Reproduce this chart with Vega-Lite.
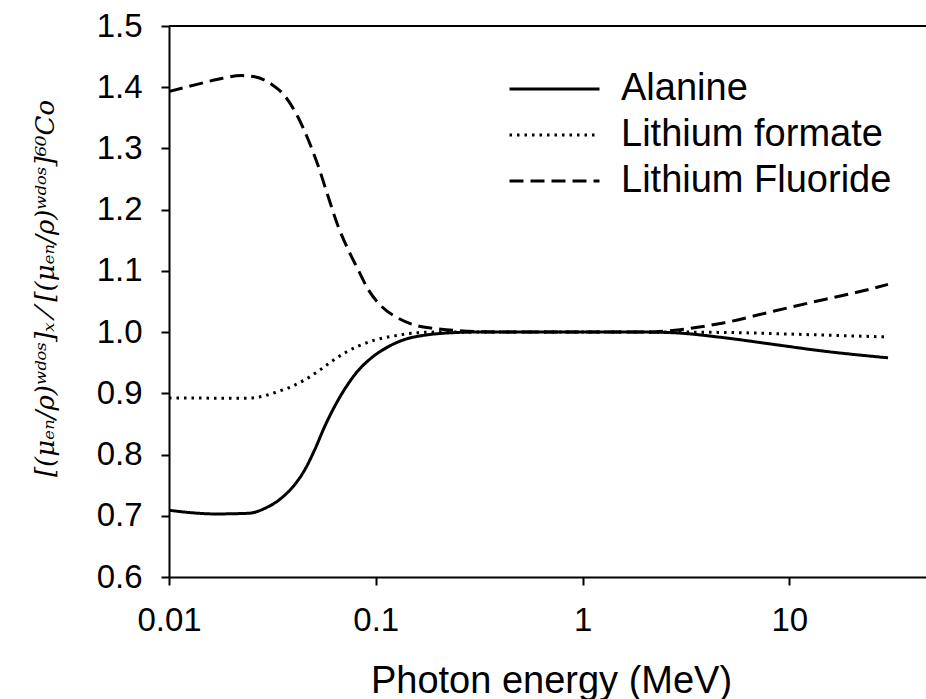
{
  "$schema": "https://vega.github.io/schema/vega-lite/v6.json",
  "autosize": {"type": "none"},
  "padding": {"left": 169, "top": 26, "right": 0, "bottom": 122},
  "width": 757,
  "height": 551,
  "background": "white",
  "config": {
    "view": {"stroke": null},
    "font": "Liberation Sans",
    "axis": {
      "grid": false,
      "domainColor": "black",
      "domainWidth": 2,
      "tickColor": "black",
      "tickWidth": 2,
      "tickSize": 8,
      "labelColor": "black",
      "labelFont": "Liberation Sans",
      "labelFontSize": 33,
      "titleColor": "black",
      "titleFontWeight": "normal"
    }
  },
  "data": {
    "values": [
      {"material": "Alanine", "energy": 0.01, "ratio": 0.709},
      {"material": "Alanine", "energy": 0.01284, "ratio": 0.705},
      {"material": "Alanine", "energy": 0.01664, "ratio": 0.703},
      {"material": "Alanine", "energy": 0.02411, "ratio": 0.704},
      {"material": "Alanine", "energy": 0.02904, "ratio": 0.712},
      {"material": "Alanine", "energy": 0.03498, "ratio": 0.729},
      {"material": "Alanine", "energy": 0.04056, "ratio": 0.751},
      {"material": "Alanine", "energy": 0.04534, "ratio": 0.775},
      {"material": "Alanine", "energy": 0.05068, "ratio": 0.808},
      {"material": "Alanine", "energy": 0.05665, "ratio": 0.846},
      {"material": "Alanine", "energy": 0.06333, "ratio": 0.879},
      {"material": "Alanine", "energy": 0.07079, "ratio": 0.907},
      {"material": "Alanine", "energy": 0.08211, "ratio": 0.937},
      {"material": "Alanine", "energy": 0.09532, "ratio": 0.958},
      {"material": "Alanine", "energy": 0.1147, "ratio": 0.976},
      {"material": "Alanine", "energy": 0.1381, "ratio": 0.988},
      {"material": "Alanine", "energy": 0.1726, "ratio": 0.995},
      {"material": "Alanine", "energy": 0.193, "ratio": 0.997},
      {"material": "Alanine", "energy": 0.3, "ratio": 1.0},
      {"material": "Alanine", "energy": 0.5, "ratio": 1.0},
      {"material": "Alanine", "energy": 1, "ratio": 1.0},
      {"material": "Alanine", "energy": 2, "ratio": 1.0},
      {"material": "Alanine", "energy": 2.74, "ratio": 0.999},
      {"material": "Alanine", "energy": 4.79, "ratio": 0.991},
      {"material": "Alanine", "energy": 8.36, "ratio": 0.98},
      {"material": "Alanine", "energy": 14.6, "ratio": 0.969},
      {"material": "Alanine", "energy": 30, "ratio": 0.958},

      {"material": "Lithium formate", "energy": 0.01, "ratio": 0.8925},
      {"material": "Lithium formate", "energy": 0.015, "ratio": 0.8922},
      {"material": "Lithium formate", "energy": 0.02, "ratio": 0.892},
      {"material": "Lithium formate", "energy": 0.02411, "ratio": 0.892},
      {"material": "Lithium formate", "energy": 0.02904, "ratio": 0.896},
      {"material": "Lithium formate", "energy": 0.03368, "ratio": 0.903},
      {"material": "Lithium formate", "energy": 0.0391, "ratio": 0.911},
      {"material": "Lithium formate", "energy": 0.04534, "ratio": 0.922},
      {"material": "Lithium formate", "energy": 0.05259, "ratio": 0.936},
      {"material": "Lithium formate", "energy": 0.06105, "ratio": 0.952},
      {"material": "Lithium formate", "energy": 0.07079, "ratio": 0.966},
      {"material": "Lithium formate", "energy": 0.08211, "ratio": 0.977},
      {"material": "Lithium formate", "energy": 0.0989, "ratio": 0.987},
      {"material": "Lithium formate", "energy": 0.1191, "ratio": 0.993},
      {"material": "Lithium formate", "energy": 0.1488, "ratio": 0.998},
      {"material": "Lithium formate", "energy": 0.193, "ratio": 1.0},
      {"material": "Lithium formate", "energy": 0.3, "ratio": 1.0},
      {"material": "Lithium formate", "energy": 1, "ratio": 1.0},
      {"material": "Lithium formate", "energy": 3, "ratio": 1.0},
      {"material": "Lithium formate", "energy": 5.77, "ratio": 0.999},
      {"material": "Lithium formate", "energy": 12.1, "ratio": 0.996},
      {"material": "Lithium formate", "energy": 30, "ratio": 0.992},

      {"material": "Lithium Fluoride", "energy": 0.01, "ratio": 1.393},
      {"material": "Lithium Fluoride", "energy": 0.01381, "ratio": 1.405},
      {"material": "Lithium Fluoride", "energy": 0.01726, "ratio": 1.413},
      {"material": "Lithium Fluoride", "energy": 0.0224, "ratio": 1.419},
      {"material": "Lithium Fluoride", "energy": 0.02598, "ratio": 1.417},
      {"material": "Lithium Fluoride", "energy": 0.0313, "ratio": 1.405},
      {"material": "Lithium Fluoride", "energy": 0.03628, "ratio": 1.386},
      {"material": "Lithium Fluoride", "energy": 0.04208, "ratio": 1.351},
      {"material": "Lithium Fluoride", "energy": 0.04704, "ratio": 1.315},
      {"material": "Lithium Fluoride", "energy": 0.05259, "ratio": 1.272},
      {"material": "Lithium Fluoride", "energy": 0.05877, "ratio": 1.222},
      {"material": "Lithium Fluoride", "energy": 0.06571, "ratio": 1.173},
      {"material": "Lithium Fluoride", "energy": 0.07345, "ratio": 1.135},
      {"material": "Lithium Fluoride", "energy": 0.08211, "ratio": 1.102},
      {"material": "Lithium Fluoride", "energy": 0.09179, "ratio": 1.07},
      {"material": "Lithium Fluoride", "energy": 0.1066, "ratio": 1.042},
      {"material": "Lithium Fluoride", "energy": 0.1282, "ratio": 1.023},
      {"material": "Lithium Fluoride", "energy": 0.1602, "ratio": 1.01},
      {"material": "Lithium Fluoride", "energy": 0.193, "ratio": 1.006},
      {"material": "Lithium Fluoride", "energy": 0.3, "ratio": 1.001},
      {"material": "Lithium Fluoride", "energy": 0.5, "ratio": 1.0},
      {"material": "Lithium Fluoride", "energy": 1, "ratio": 1.0},
      {"material": "Lithium Fluoride", "energy": 1.89, "ratio": 1.0},
      {"material": "Lithium Fluoride", "energy": 2.96, "ratio": 1.004},
      {"material": "Lithium Fluoride", "energy": 4.79, "ratio": 1.015},
      {"material": "Lithium Fluoride", "energy": 8.36, "ratio": 1.034},
      {"material": "Lithium Fluoride", "energy": 14.6, "ratio": 1.053},
      {"material": "Lithium Fluoride", "energy": 21.2, "ratio": 1.065},
      {"material": "Lithium Fluoride", "energy": 30, "ratio": 1.078}
    ]
  },
  "layer": [
    {
      "mark": {"type": "line", "color": "black", "strokeWidth": 3, "interpolate": "monotone", "clip": true},
      "encoding": {
        "x": {
          "field": "energy",
          "type": "quantitative",
          "scale": {"type": "log", "domain": [0.01, 45.8], "nice": false},
          "axis": {
            "values": [0.01, 0.1, 1, 10],
            "format": "~g",
            "labelPadding": 19,
            "labelFlush": false,
            "title": "Photon energy (MeV)",
            "titleFont": "Liberation Sans",
            "titleFontSize": 38,
            "titleBaseline": "alphabetic",
            "titleY": 115,
            "titleX": 382
          }
        },
        "y": {
          "field": "ratio",
          "type": "quantitative",
          "scale": {"domain": [0.6, 1.5], "nice": false, "zero": false},
          "axis": {
            "values": [0.6, 0.7, 0.8, 0.9, 1.0, 1.1, 1.2, 1.3, 1.4, 1.5],
            "format": ".1f",
            "labelPadding": 19,
            "labelFlush": false,
            "title": "[(μₑₙ/ρ)ʷᵈᵒˢ]ₓ ⁄ [(μₑₙ/ρ)ʷᵈᵒˢ]⁶⁰Co",
            "titleFont": "DejaVu Serif",
            "titleFontStyle": "italic",
            "titleFontSize": 26,
            "titleAngle": -90,
            "titleAlign": "center",
            "titleBaseline": "middle",
            "titleX": -124,
            "titleY": 262
          }
        },
        "strokeDash": {
          "field": "material",
          "type": "nominal",
          "scale": {
            "domain": ["Alanine", "Lithium formate", "Lithium Fluoride"],
            "range": [[1, 0], [2.5, 5], [14, 7]]
          },
          "legend": {
            "title": null,
            "orient": "none",
            "legendX": 339,
            "legendY": 40,
            "padding": 0,
            "symbolType": "stroke",
            "symbolSize": 8100,
            "symbolStrokeWidth": 3,
            "symbolStrokeColor": "black",
            "clipHeight": 46,
            "rowPadding": 0,
            "labelOffset": 20,
            "labelFont": "Liberation Sans",
            "labelFontSize": 38,
            "labelColor": "black",
            "labelLimit": 400
          }
        }
      }
    },
    {
      "mark": {"type": "rule", "color": "black", "strokeWidth": 2},
      "encoding": {"y": {"datum": 1.5}}
    }
  ]
}
